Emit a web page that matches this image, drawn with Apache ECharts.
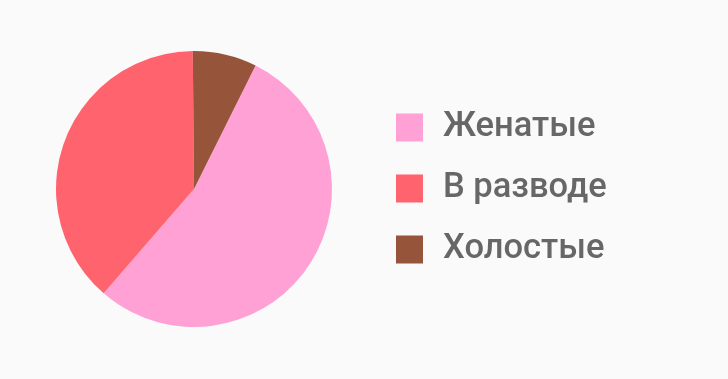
<!DOCTYPE html>
<html><head><meta charset="utf-8">
<script src="https://cdn.jsdelivr.net/npm/echarts@6/dist/echarts.min.js"></script>
<style>html,body{margin:0;padding:0;background:#fafafa;}#c{width:728px;height:379px;}</style>
</head><body><div id="c"></div>
<script>
const categories = ['Женатые', 'В разводе', 'Холостые'];
const values = [54, 38.5, 7.5];
const colors = ['#FFA1D4', '#FF636E', '#96553A'];

const chart = echarts.init(document.getElementById('c'), null, {renderer: 'canvas'});
chart.setOption({
  backgroundColor: '#fafafa',
  animation: false,
  legend: {
    orient: 'vertical',
    left: 396,
    top: 110,
    padding: 0,
    itemWidth: 27,
    itemHeight: 28,
    itemGap: 26,
    icon: 'rect',
    data: categories,
    textStyle: {fontFamily: 'Roboto', fontSize: 34.5, fontWeight: 500, lineHeight: 32, color: '#676767', padding: [0, 0, 0, 15]}
  },
  series: [{
    type: 'pie',
    center: [194, 189],
    radius: [0, 138],
    startAngle: 63.5,
    clockwise: true,
    label: {show: false},
    labelLine: {show: false},
    itemStyle: {borderWidth: 0},
    emphasis: {disabled: true},
    data: categories.map((n, i) => ({name: n, value: values[i], itemStyle: {color: colors[i]}}))
  }]
});
</script></body></html>
